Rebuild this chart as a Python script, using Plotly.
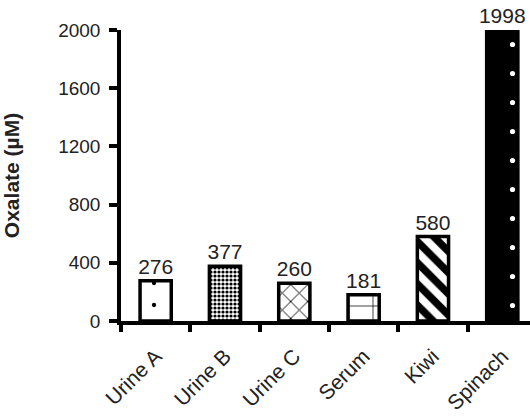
import plotly.graph_objects as go

categories = ["Urine A", "Urine B", "Urine C", "Serum", "Kiwi", "Spinach"]
values = [276, 377, 260, 181, 580, 1998]
y_ticks = [0, 400, 800, 1200, 1600, 2000]

shapes = [".", ".", "x", "+", "\\", "."]
fg = ["black", "black", "black", "black", "black", "white"]
bg = ["white", "white", "white", "white", "white", "black"]
psize = [22, 4, 12, 24, 15, 29]
solid = [0.03, 0.5, 0.15, 0.06, 0.5, 0.025]

fig = go.Figure(go.Bar(
    x=categories, y=values, width=0.45,
    marker=dict(color="white", line=dict(color="black", width=3.5),
                pattern=dict(shape=shapes, fgcolor=fg, bgcolor=bg, size=psize,
                             solidity=solid, fgopacity=1, fillmode="replace")),
    text=[str(v) for v in values], textposition="outside",
    textfont=dict(family="Liberation Sans, Arial", size=21, color="#222"),
    constraintext="none",
    cliponaxis=False,
))

fig.update_layout(
    width=530, height=418,
    margin=dict(l=121, r=0, t=30, b=97, autoexpand=False),
    plot_bgcolor="white", paper_bgcolor="white",
    showlegend=False,
    font=dict(family="Liberation Sans, Arial", size=19, color="#222"),
)
fig.update_xaxes(type="category", range=[-0.5, 5.4], tickson="boundaries", ticks="outside",
                 ticklen=7, tickwidth=3.5,
                 tickcolor="black", showline=True, linecolor="black", linewidth=3.5,
                 tickangle=-45, tickfont=dict(size=21), showgrid=False, automargin=False,
                 ticklabelstandoff=11)
fig.update_yaxes(range=[0, 2000], tickvals=y_ticks, ticks="outside", ticklen=8, tickwidth=3.5,
                 tickcolor="black", showline=True, linecolor="black", linewidth=3.5,
                 showgrid=False, zeroline=False, automargin=False, tickfont=dict(size=19),
                 ticklabelstandoff=5,
                 title=dict(text="<b>Oxalate (µM)</b>", font=dict(size=21, color="#222"), standoff=34))

fig.write_html("out.html", config={"displayModeBar": False},
               post_script="document.body.style.margin='0';document.body.style.overflow='hidden';")
